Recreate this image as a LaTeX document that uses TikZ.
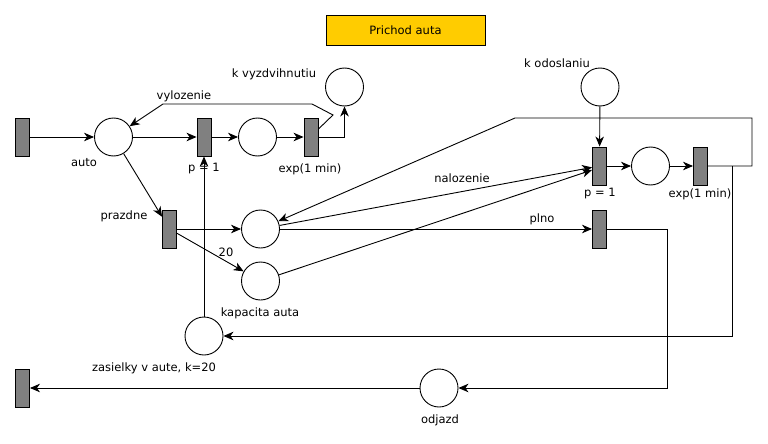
\documentclass[tikz,border=0pt]{standalone}
\usepackage{fontspec}
\setmainfont{DejaVu Sans}
\usetikzlibrary{arrows.meta,calc}
\definecolor{titlegold}{HTML}{FFCC00}
\definecolor{trgray}{HTML}{808080}
\begin{document}
\begin{tikzpicture}[x=1pt,y=-1pt,
  every node/.style={font=\fontsize{11.5}{13}\selectfont},
  place/.style={draw=black,circle,fill=white,minimum size=38pt,inner sep=0pt,line width=0.9pt},
  trans/.style={draw=black,fill=trgray,rectangle,minimum width=14pt,minimum height=38pt,inner sep=0pt,line width=0.9pt},
  lbl/.style={inner sep=0pt},
  arc/.style={line width=0.9pt,-{Stealth[length=10pt,width=8.5pt,inset=3pt]}},
  seg/.style={line width=0.9pt},
  titlebox/.style={draw=black,fill=titlegold,minimum width=159pt,minimum height=30pt,inner sep=0pt,line width=0.9pt}
]
\useasboundingbox (0,0) rectangle (768,444);
\fill[white] (0,0) rectangle (768,444);

\node[titlebox] (title) at (405.5,30) {Prichod auta};

% transitions
\node[trans] (T0) at (22.5,137) {};
\node[trans] (T1) at (204,137) {};
\node[trans] (T2) at (311,137) {};
\node[trans] (T3) at (169.5,229) {};
\node[trans] (T4) at (599.5,166) {};
\node[trans] (T5) at (700.5,166) {};
\node[trans] (T6) at (599.5,229) {};
\node[trans] (T7) at (22.5,388) {};

% places
\node[place] (auto) at (113.5,137) {};
\node[place] (P1) at (257.5,137) {};
\node[place] (kvyz) at (344.5,87) {};
\node[place] (Pm) at (260.5,229) {};
\node[place] (kap) at (260.5,281) {};
\node[place] (zas) at (204,336) {};
\node[place] (kod) at (600,87) {};
\node[place] (Pr) at (650.5,166) {};
\node[place] (odj) at (439,388) {};

% helper coordinates
\coordinate (v1) at ($(T2.east)+(0,-8)$);
\coordinate (v2) at (333,115);
\coordinate (v3) at (312,104);
\coordinate (v4) at (163,104);
\coordinate (r1) at (752,166);
\coordinate (r2) at (752,118);
\coordinate (r3) at (515,118);
\coordinate (j1) at (732,166);
\coordinate (j2) at (667,229);

% connectors
\draw[arc] (T0) -- (auto);
\draw[arc] (auto) -- (T1);
\draw[arc] (T1) -- (P1);
\draw[arc] (P1) -- (T2);
\draw[arc] (T2.east) -| (kvyz.south);
\draw[arc] (v1) -- (v2) -- (v3) -- (v4) -- (auto);
\draw[arc] (auto) -- (T3);
\draw[arc] (T3) -- (Pm);
\draw[arc] (T3) -- (kap);
\draw[arc] (zas.north) -- (T1.south);
\draw[arc] (Pm) -- (T4);
\draw[arc] (kap) -- ($(T4.west)+(0,4)$);
\draw[arc] (kod) -- (T4);
\draw[arc] (T4) -- (Pr);
\draw[arc] (Pr) -- (T5);
\draw[arc] (T5.east) -- (r1) -- (r2) -- (r3) -- (Pm);
\draw[arc] (j1) |- (zas.east);
\draw[arc] (Pm) -- (T6);
\draw[arc] (T6.east) -- (j2) |- (odj.east);
\draw[arc] (odj) -- (T7);

% labels
\node[lbl] (l_auto) at (84,163) {auto};
\node[lbl] (l_p1) at (204,169) {p = 1};
\node[lbl] (l_exp1) at (310,169) {exp(1 min)};
\node[lbl] (l_kvyz) at (274,74) {k vyzdvihnutiu};
\node[lbl] (l_vyl) at (184,96) {vylozenie};
\node[lbl] (l_praz) at (124,216) {prazdne};
\node[lbl] (l_20) at (226,252) {20};
\node[lbl] (l_kap) at (260,313) {kapacita auta};
\node[lbl] (l_zas) at (154,368) {zasielky v aute, k=20};
\node[lbl] (l_odj) at (440,420) {odjazd};
\node[lbl] (l_kod) at (557,63) {k odoslaniu};
\node[lbl] (l_nal) at (462,178) {nalozenie};
\node[lbl] (l_p2) at (600,194) {p = 1};
\node[lbl] (l_exp2) at (700,194) {exp(1 min)};
\node[lbl] (l_plno) at (542,219) {plno};
\end{tikzpicture}
\end{document}
